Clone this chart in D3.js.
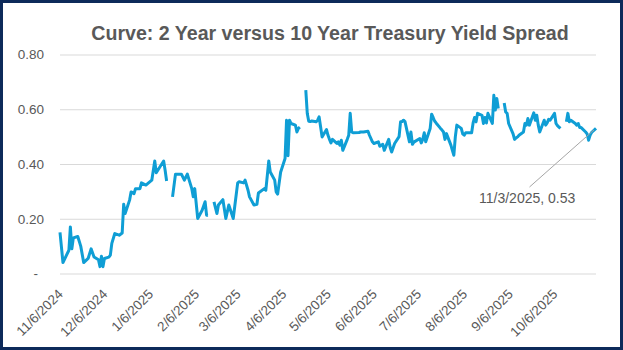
<!DOCTYPE html>
<html><head><meta charset="utf-8">
<script src="https://cdn.jsdelivr.net/npm/d3@7"></script>
<style>html,body{margin:0;padding:0;background:#fff}svg{display:block}</style>
</head><body>
<svg id="chart" width="623" height="350"></svg>
<script>
const titleText = "Curve: 2 Year versus 10 Year Treasury Yield Spread";

const dates = [
"2024-11-06","2024-11-08","2024-11-12","2024-11-13","2024-11-14","2024-11-15","2024-11-18","2024-11-20","2024-11-22","2024-11-25","2024-11-27","2024-11-29",
"2024-12-02","2024-12-03","2024-12-04","2024-12-05","2024-12-06","2024-12-09","2024-12-10","2024-12-11","2024-12-13","2024-12-16","2024-12-18","2024-12-19","2024-12-20","2024-12-23","2024-12-24","2024-12-26","2024-12-27","2024-12-30","2024-12-31",
"2025-01-03","2025-01-07","2025-01-09","2025-01-10","2025-01-15","2025-01-16","2025-01-17","2025-01-20","2025-01-21","2025-01-23","2025-01-27","2025-01-29","2025-01-31",
"2025-02-03","2025-02-04","2025-02-05","2025-02-07","2025-02-10","2025-02-12","2025-02-13","2025-02-14","2025-02-17","2025-02-18","2025-02-20","2025-02-21","2025-02-24","2025-02-26","2025-02-28",
"2025-03-03","2025-03-06","2025-03-07","2025-03-10","2025-03-11","2025-03-13","2025-03-14","2025-03-17","2025-03-19","2025-03-20","2025-03-24","2025-03-25","2025-03-27","2025-03-28","2025-03-31",
"2025-04-01","2025-04-02","2025-04-03","2025-04-04","2025-04-07","2025-04-08","2025-04-09","2025-04-10","2025-04-11","2025-04-14","2025-04-15","2025-04-16","2025-04-17","2025-04-18","2025-04-21","2025-04-22","2025-04-23","2025-04-24","2025-04-25","2025-04-28","2025-04-29","2025-04-30",
"2025-05-01","2025-05-02","2025-05-05","2025-05-06","2025-05-07","2025-05-08","2025-05-09","2025-05-12","2025-05-13","2025-05-14","2025-05-15","2025-05-16","2025-05-19","2025-05-20","2025-05-21","2025-05-22","2025-05-23","2025-05-27","2025-05-28","2025-05-29","2025-05-30",
"2025-06-02","2025-06-03","2025-06-05","2025-06-06","2025-06-09","2025-06-10","2025-06-12","2025-06-13","2025-06-16","2025-06-17","2025-06-18","2025-06-20","2025-06-23","2025-06-24","2025-06-25","2025-06-26","2025-06-27","2025-06-30",
"2025-07-01","2025-07-02","2025-07-03","2025-07-07","2025-07-08","2025-07-09","2025-07-10","2025-07-11","2025-07-14","2025-07-15","2025-07-16","2025-07-17","2025-07-18","2025-07-21","2025-07-22","2025-07-23","2025-07-24","2025-07-25","2025-07-28","2025-07-29","2025-07-30","2025-07-31",
"2025-08-01","2025-08-04","2025-08-05","2025-08-06","2025-08-07","2025-08-08","2025-08-11","2025-08-12","2025-08-13","2025-08-14","2025-08-15","2025-08-18","2025-08-19","2025-08-20","2025-08-21","2025-08-22","2025-08-25","2025-08-26","2025-08-27","2025-08-28","2025-08-29",
"2025-09-01","2025-09-02","2025-09-03","2025-09-04","2025-09-05","2025-09-08","2025-09-09","2025-09-10","2025-09-11","2025-09-12","2025-09-15","2025-09-16","2025-09-17","2025-09-18","2025-09-19","2025-09-22","2025-09-23","2025-09-24","2025-09-25","2025-09-26","2025-09-29","2025-09-30",
"2025-10-01","2025-10-02","2025-10-03","2025-10-06","2025-10-07","2025-10-08","2025-10-09","2025-10-10","2025-10-13","2025-10-14","2025-10-15","2025-10-16","2025-10-17","2025-10-20","2025-10-21","2025-10-22","2025-10-23","2025-10-24","2025-10-27","2025-10-28","2025-10-29","2025-10-30","2025-10-31",
"2025-11-03"
];

const spread = [
0.15,0.04,0.085,0.17,0.09,0.13,0.135,0.10,0.04,0.055,0.09,0.06,
0.05,0.025,0.063,0.025,0.055,0.06,0.067,0.11,0.146,0.14,0.148,0.253,0.219,0.268,0.298,0.292,0.31,0.31,0.331,
0.323,0.341,0.411,0.368,0.411,0.377,0.338,null,0.28,0.363,0.363,0.341,0.363,
0.31,0.28,0.31,0.201,0.231,0.262,0.213,0.213,null,0.262,0.219,0.25,0.27,0.201,0.25,
0.201,0.331,0.335,0.331,0.341,0.304,0.28,0.25,0.253,0.294,0.31,0.304,0.411,0.371,0.341,
0.298,0.29,0.33,0.37,0.42,0.56,0.43,0.56,0.548,0.542,0.517,0.53,0.535,null,0.67,0.585,0.556,0.555,0.557,0.554,0.56,0.572,
0.536,0.499,0.526,0.505,0.49,0.477,0.49,0.475,0.481,0.469,0.487,0.45,0.49,0.505,0.585,0.517,0.514,0.515,0.517,0.517,0.517,
0.52,0.505,0.481,0.475,0.481,0.465,0.472,0.45,0.49,0.46,0.444,0.475,0.50,0.554,0.555,0.56,0.555,0.481,
0.517,0.472,0.48,0.493,0.477,0.49,0.514,0.481,0.53,0.582,0.57,0.557,0.55,0.53,0.524,0.517,0.49,0.511,0.469,0.45,0.432,0.50,
0.542,0.53,0.51,0.505,0.514,0.514,0.514,0.55,0.57,0.554,0.585,0.578,0.548,0.57,0.55,0.585,0.548,0.651,0.597,0.639,0.603,
null,0.623,0.59,0.585,0.548,0.51,0.49,0.495,0.499,0.505,0.517,0.548,0.542,0.566,0.542,0.587,0.56,0.578,0.542,0.517,0.56,0.542,
0.55,0.563,0.56,0.585,0.548,0.54,0.535,0.53,null,0.554,0.585,0.554,0.56,0.548,0.542,0.548,0.533,0.533,0.517,0.51,0.487,0.505,0.515,
0.53
];

const yTicks = [0, 0.2, 0.4, 0.6, 0.8];
const xTicks = ["2024-11-06","2024-12-06","2025-01-06","2025-02-06","2025-03-06","2025-04-06","2025-05-06","2025-06-06","2025-07-06","2025-08-06","2025-09-06","2025-10-06"];
const xDomain = ["2024-11-06","2025-11-03"];
const yDomain = [0, 0.8];
const lastLabel = "11/3/2025, 0.53";

(function draw(){
const parse = d3.utcParse("%Y-%m-%d");
const fmtDate = d3.utcFormat("%-m/%-d/%Y");
const data = dates.map((d,i)=>({date: parse(d), value: spread[i]}));

const svg = d3.select("#chart");
const W = 623, H = 350;
const pLeft = 60, pRight = 596, pTop = 54.5, pBottom = 273.5;

svg.append("rect").attr("x",0).attr("y",0).attr("width",W).attr("height",H).attr("fill","#fff");

const x = d3.scaleUtc().domain(xDomain.map(parse)).range([pLeft, pRight]);
const y = d3.scaleLinear().domain(yDomain).range([pBottom, pTop]);

const gray = "#595959";
const font = "'Liberation Sans', Arial, sans-serif";

svg.append("text").attr("x", 330).attr("y", 40).attr("text-anchor","middle")
  .attr("font-family", font).attr("font-weight","bold").attr("font-size", "19.6px")
  .attr("fill", gray).text(titleText);

const yAxis = d3.axisLeft(y).tickValues(yTicks).tickSize(-(pRight-pLeft)).tickPadding(16)
  .tickFormat(v => v === 0 ? "-" : d3.format(".2f")(v));
const gy = svg.append("g").attr("transform", `translate(${pLeft},0)`).call(yAxis);
gy.select(".domain").remove();
gy.selectAll(".tick line").attr("stroke", "#d9d9d9").attr("stroke-width", 1);
gy.selectAll(".tick text").attr("fill", gray).attr("font-family", font).attr("font-size", "13.5px")
  .attr("x", d => d === 0 ? -22 : -16);

const xAxis = d3.axisBottom(x).tickValues(xTicks.map(parse)).tickSize(0).tickFormat(fmtDate);
const gx = svg.append("g").attr("transform", `translate(0,${pBottom})`).call(xAxis);
gx.select(".domain").remove();
gx.selectAll(".tick text").attr("fill", gray).attr("font-family", font).attr("font-size", "13.5px")
  .attr("x", null).attr("y", null).attr("dy", null)
  .attr("text-anchor", "end")
  .attr("transform", "translate(3.3,21.5) rotate(-45)");

const line = d3.line().defined(d => d.value != null)
  .x(d => x(d.date)).y(d => y(d.value));
svg.append("path").datum(data).attr("d", line)
  .attr("fill","none").attr("stroke","#0F9ED5").attr("stroke-width",3)
  .attr("stroke-linejoin","round");

const last = data[data.length-1];
svg.append("line").attr("x1", 529.5).attr("y1", 187)
  .attr("x2", x(last.date) - 2).attr("y2", y(last.value) + 1.5)
  .attr("stroke", "#a6a6a6").attr("stroke-width", 1);
svg.append("text").attr("x", 479).attr("y", 202.5)
  .attr("font-family", font).attr("font-size", "14px").attr("fill", gray).text(lastLabel);

svg.append("rect").attr("x",1.5).attr("y",1.5).attr("width",620).attr("height",347)
  .attr("fill","none").attr("stroke","#0D2A5A").attr("stroke-width",3);
})();
</script>
</body></html>
